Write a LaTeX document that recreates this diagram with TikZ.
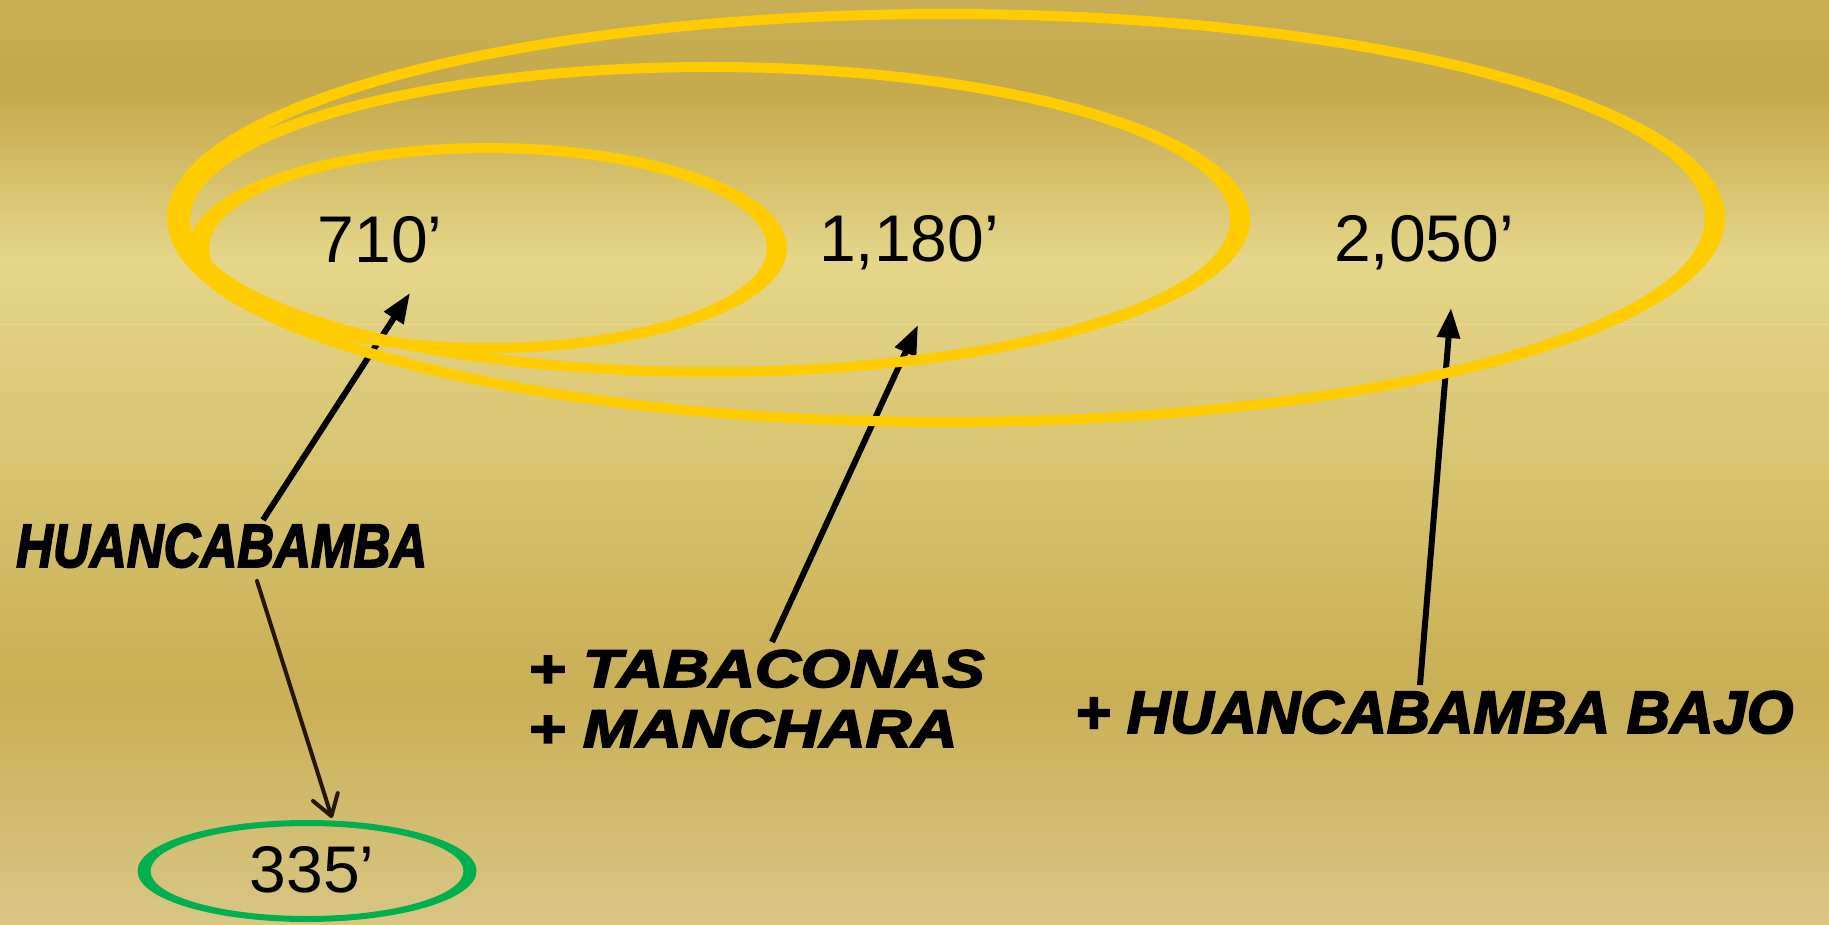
\documentclass[tikz,border=0pt]{standalone}
\usepackage{graphicx}
\usepackage{fontspec}
\setmainfont{Liberation Sans}
\newfontfamily\heavyfont{Liberation Sans}[BoldItalicFeatures={FakeBold=3}]
\usetikzlibrary{
    positioning,
    arrows.meta
    }
\definecolor{ringyellow}{HTML}{FFCC00}
\definecolor{ringgreen}{HTML}{00B050}
\definecolor{riverbrown}{HTML}{241608}
\definecolor{bgtop}{HTML}{C8AF56}
\definecolor{bgdark}{HTML}{C4A94D}
\definecolor{bglight}{HTML}{E5D68A}
\definecolor{bgmid}{HTML}{C9AF55}
\definecolor{bgfoot}{HTML}{D9C685}
\definecolor{seam}{HTML}{E6D998}

\begin{document}
\begin{tikzpicture}[x=1pt, y=-1pt]
% chktex-file 1
\tikzset{ring/.style =
        {
            fill=ringyellow,
            even odd rule
        }
}

\tikzset{value/.style =
        {
            anchor=base,
            inner sep=0pt,
            font=\fontsize{66pt}{70pt}\selectfont
        }
}

\tikzset{river/.style =
        {
            anchor=base west,
            inner sep=0pt,
            font=\heavyfont\fontsize{#1}{#1}\bfseries\itshape\selectfont
        }
}

\tikzset{feed/.style = {
            line width=6pt,
            -{Triangle[length=30pt, width=22pt]}
        }
}

\tikzset{drop/.style = {
            line width=4pt,
            riverbrown,
            line cap=round,
            -{Straight Barb[length=20pt, width=26pt, round]}
        }
}

		\useasboundingbox (0,0) rectangle (1829,925);

		% background bands
		\shade[top color=bgtop, bottom color=bgdark] (0,0) rectangle (1829,91);
		\shade[top color=bgdark, bottom color=bglight] (0,90) rectangle (1829,261);
		\shade[top color=bglight, bottom color=bgmid] (0,260) rectangle (1829,691);
		\shade[top color=bgmid, bottom color=bgfoot] (0,690) rectangle (1829,925);
		\draw[seam, line width=1pt] (0,325) -- (1829,325);

		\node[river=61.5pt] (hu) at (16,567) {\scalebox{0.83}[1]{HUANCABAMBA}};
		\node[river=53pt] (tab) at (528,687) {\scalebox{1.2}[1]{+ TABACONAS}};
		\node[river=53pt] (man) at (528,747) {\scalebox{1.2}[1]{+ MANCHARA}};
		\node[river=60pt] (bajo) at (1075,733) {+ HUANCABAMBA BAJO};

		\foreach \nm / \x / \y / \txt in
			{n710/380/263/{710’},
				n1180/909/262/{1,180’},
				n2050/1424/262/{2,050’},
				n335/312/892/{335’}}
		\node[value] (\nm) at (\x,\y) {\txt};

		\draw[feed] ([xshift=247pt, yshift=47pt]hu.base west) -- ([xshift=30pt, yshift=-30pt]n710.base);
		\draw[feed] ([xshift=244pt, yshift=45pt]tab.base west) -- ([xshift=9pt, yshift=-63pt]n1180.base);
		\draw[feed] ([xshift=345pt, yshift=48pt]bajo.base west) -- ([xshift=27pt, yshift=-46pt]n2050.base);
		\draw[drop] ([xshift=241pt, yshift=-14pt]hu.base west) -- ([xshift=20pt, yshift=74pt]n335.base);

		\foreach \cx / \cy / \rx / \ry in
			{946/218/769/204,
				710/219.5/530/152.5,
				488/248/289/100}
		\fill[ring] (\cx,\cy) ellipse [x radius=\rx+10, y radius=\ry+5] ellipse [x radius=\rx-10, y radius=\ry-5];

		\fill[ring, fill=ringgreen] (307,871) ellipse [x radius=169.5, y radius=51] ellipse [x radius=156.5, y radius=45];

	\end{tikzpicture}
\end{document}
